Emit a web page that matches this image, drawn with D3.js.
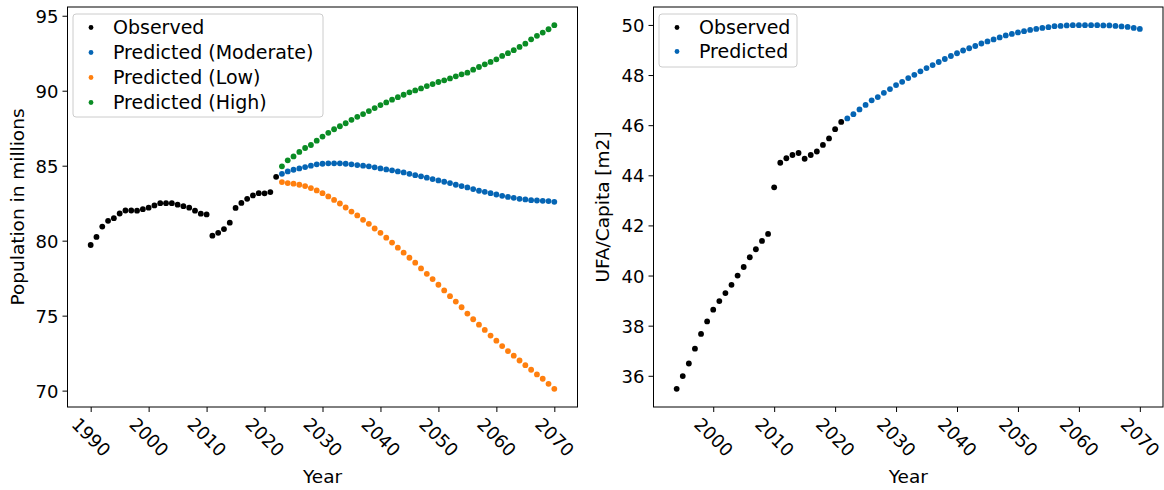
<!DOCTYPE html>
<html>
<head>
<meta charset="utf-8">
<script src="https://cdn.jsdelivr.net/npm/d3@7"></script>
<style>
  body { margin: 0; background: #fff; }
  text { font-family: "DejaVu Sans", sans-serif; fill: #000; }
</style>
</head>
<body>
<svg id="chart" width="1164" height="490"></svg>
<script>
// ---- Population (millions) ----
const popObservedStart = 1990;
const popObserved = [79.71, 80.25, 80.94, 81.32, 81.50, 81.81, 82.01, 82.01, 82.00, 82.10,
  82.20, 82.35, 82.50, 82.50, 82.50, 82.40, 82.30, 82.20, 82.00, 81.80,
  81.75, 80.33, 80.52, 80.77, 81.20, 82.18, 82.52, 82.79, 83.02, 83.17,
  83.16, 83.24, 84.26];
const popPredStart = 2023;
const popModerate = [84.46, 84.62, 84.73, 84.82, 84.91, 85.00, 85.09, 85.13, 85.16, 85.16,
  85.16, 85.13, 85.09, 85.04, 85.00, 84.96, 84.89, 84.82, 84.75, 84.69,
  84.62, 84.55, 84.46, 84.37, 84.29, 84.20, 84.11, 84.02, 83.93, 83.84,
  83.73, 83.64, 83.55, 83.44, 83.33, 83.26, 83.17, 83.08, 82.99, 82.92,
  82.86, 82.79, 82.75, 82.70, 82.68, 82.66, 82.64, 82.59];
const popLow = [83.91, 83.84, 83.80, 83.73, 83.64, 83.51, 83.35, 83.17, 82.95, 82.72,
  82.48, 82.21, 81.94, 81.68, 81.39, 81.12, 80.81, 80.52, 80.20, 79.87,
  79.53, 79.20, 78.86, 78.53, 78.15, 77.79, 77.44, 77.06, 76.68, 76.30,
  75.94, 75.56, 75.14, 74.76, 74.40, 74.05, 73.67, 73.33, 72.97, 72.64,
  72.33, 72.01, 71.70, 71.39, 71.08, 70.79, 70.45, 70.12];
const popHigh = [84.96, 85.36, 85.62, 85.92, 86.18, 86.38, 86.67, 86.94, 87.19, 87.43,
  87.63, 87.83, 88.06, 88.26, 88.44, 88.64, 88.84, 89.04, 89.22, 89.40,
  89.57, 89.73, 89.89, 90.02, 90.15, 90.31, 90.44, 90.58, 90.69, 90.82,
  90.96, 91.09, 91.20, 91.40, 91.58, 91.76, 91.92, 92.09, 92.32, 92.50,
  92.70, 92.92, 93.14, 93.43, 93.66, 93.88, 94.10, 94.37];
const popXTicks = [1990, 2000, 2010, 2020, 2030, 2040, 2050, 2060, 2070];
const popYTicks = [70, 75, 80, 85, 90, 95];

// ---- Useful floor area per capita (m2) ----
const ufaObservedStart = 1994;
const ufaObserved = [35.48, 35.99, 36.49, 37.08, 37.67, 38.17, 38.64, 38.98, 39.30, 39.63,
  40.00, 40.34, 40.73, 41.05, 41.38, 41.66, 43.52, 44.50, 44.68, 44.81,
  44.89, 44.66, 44.81, 44.95, 45.21, 45.47, 45.84, 46.13];
const ufaPredStart = 2022;
const ufaPredicted = [46.27, 46.44, 46.63, 46.81, 46.99, 47.12, 47.29, 47.44, 47.60, 47.73,
  47.88, 48.01, 48.15, 48.28, 48.40, 48.52, 48.64, 48.76, 48.87, 48.98,
  49.07, 49.16, 49.26, 49.34, 49.42, 49.50, 49.58, 49.64, 49.70, 49.75,
  49.80, 49.84, 49.88, 49.91, 49.95, 49.96, 49.98, 49.99, 49.99, 49.99,
  49.99, 49.99, 49.98, 49.98, 49.96, 49.94, 49.92, 49.88, 49.84];
const ufaXTicks = [2000, 2010, 2020, 2030, 2040, 2050, 2060, 2070];
const ufaYTicks = [36, 38, 40, 42, 44, 46, 48, 50];

const COLORS = { observed: "#000000", moderate: "#0565b4", low: "#ff7f0e", high: "#0a8c24" };

function toPoints(start, values) {
  return values.map((v, i) => ({ year: start + i, value: v }));
}

const svg = d3.select("#chart");
svg.append("rect").attr("width", 1164).attr("height", 490).attr("fill", "#fff");

// Padded extent, like a default autoscaled axis (5% margin on each side)
function padded(values) {
  const [lo, hi] = d3.extent(values);
  const m = (hi - lo) * 0.05;
  return [lo - m, hi + m];
}

function drawPanel(cfg) {
  const g = svg.append("g");
  const allYears = cfg.series.flatMap(s => s.points.map(p => p.year));
  const allVals = cfg.series.flatMap(s => s.points.map(p => p.value));
  const x = d3.scaleLinear().domain(padded(allYears)).range([cfg.left, cfg.right]);
  const y = d3.scaleLinear().domain(padded(allVals)).range([cfg.bottom, cfg.top]);

  // x axis
  const xAxis = g.append("g").attr("transform", `translate(0,${cfg.bottom})`)
    .call(d3.axisBottom(x).tickValues(cfg.xTicks).tickSize(5).tickSizeOuter(0).tickFormat(d3.format("d")));
  xAxis.select(".domain").remove();
  xAxis.selectAll(".tick line").attr("stroke", "#000").attr("stroke-width", 1);
  xAxis.selectAll(".tick text")
    .attr("font-size", 18)
    .attr("text-anchor", "middle")
    .attr("dominant-baseline", "central")
    .attr("y", null).attr("dy", null)
    .attr("transform", "translate(0,30) rotate(45)");

  // y axis
  const yAxis = g.append("g").attr("transform", `translate(${cfg.left},0)`)
    .call(d3.axisLeft(y).tickValues(cfg.yTicks).tickSize(5).tickPadding(4).tickFormat(d3.format("d")));
  yAxis.select(".domain").remove();
  yAxis.selectAll(".tick line").attr("stroke", "#000").attr("stroke-width", 1);
  yAxis.selectAll(".tick text").attr("font-size", 18).attr("dy", "0.36em");

  // frame
  g.append("rect")
    .attr("x", cfg.left).attr("y", cfg.top)
    .attr("width", cfg.right - cfg.left).attr("height", cfg.bottom - cfg.top)
    .attr("fill", "none").attr("stroke", "#000").attr("stroke-width", 1);

  // points
  cfg.series.forEach(s => {
    g.append("g").selectAll("circle").data(s.points).join("circle")
      .attr("cx", d => x(d.year)).attr("cy", d => y(d.value))
      .attr("r", 2.9).attr("fill", s.color);
  });

  // axis titles
  g.append("text")
    .attr("x", (cfg.left + cfg.right) / 2).attr("y", 483)
    .attr("text-anchor", "middle").attr("font-size", 18.5)
    .text("Year");
  g.append("text")
    .attr("transform", `translate(${cfg.ylabelX},${(cfg.top + cfg.bottom) / 2}) rotate(-90)`)
    .attr("text-anchor", "middle").attr("font-size", 18.5)
    .text(cfg.ylabel);

  // legend
  const L = cfg.legend;
  const lg = g.append("g");
  lg.append("rect")
    .attr("x", L.x).attr("y", L.y).attr("width", L.w).attr("height", L.h)
    .attr("rx", 3).attr("fill", "#fff").attr("fill-opacity", 0.8)
    .attr("stroke", "#cccccc").attr("stroke-width", 1);
  cfg.series.forEach((s, i) => {
    const cy = L.y + L.firstRow + i * L.rowStep;
    lg.append("circle").attr("cx", L.x + 18).attr("cy", cy).attr("r", 2.4).attr("fill", s.color);
    lg.append("text").attr("x", L.x + 40).attr("y", cy).attr("dy", "0.36em")
      .attr("font-size", 19).text(s.label);
  });
}

drawPanel({
  left: 67.5, right: 577.5, top: 7, bottom: 407,
  xTicks: popXTicks, yTicks: popYTicks,
  ylabel: "Population in millions", ylabelX: 24,
  series: [
    { label: "Observed", color: COLORS.observed, points: toPoints(popObservedStart, popObserved) },
    { label: "Predicted (Moderate)", color: COLORS.moderate, points: toPoints(popPredStart, popModerate) },
    { label: "Predicted (Low)", color: COLORS.low, points: toPoints(popPredStart, popLow) },
    { label: "Predicted (High)", color: COLORS.high, points: toPoints(popPredStart, popHigh) }
  ],
  legend: { x: 73, y: 14, w: 250, h: 103, firstRow: 13.5, rowStep: 25 }
});

drawPanel({
  left: 653.5, right: 1163, top: 7, bottom: 407,
  xTicks: ufaXTicks, yTicks: ufaYTicks,
  ylabel: "UFA/Capita [m2]", ylabelX: 609,
  series: [
    { label: "Observed", color: COLORS.observed, points: toPoints(ufaObservedStart, ufaObserved) },
    { label: "Predicted", color: COLORS.moderate, points: toPoints(ufaPredStart, ufaPredicted) }
  ],
  legend: { x: 659, y: 14, w: 138, h: 53, firstRow: 13.5, rowStep: 24 }
});
</script>
</body>
</html>
